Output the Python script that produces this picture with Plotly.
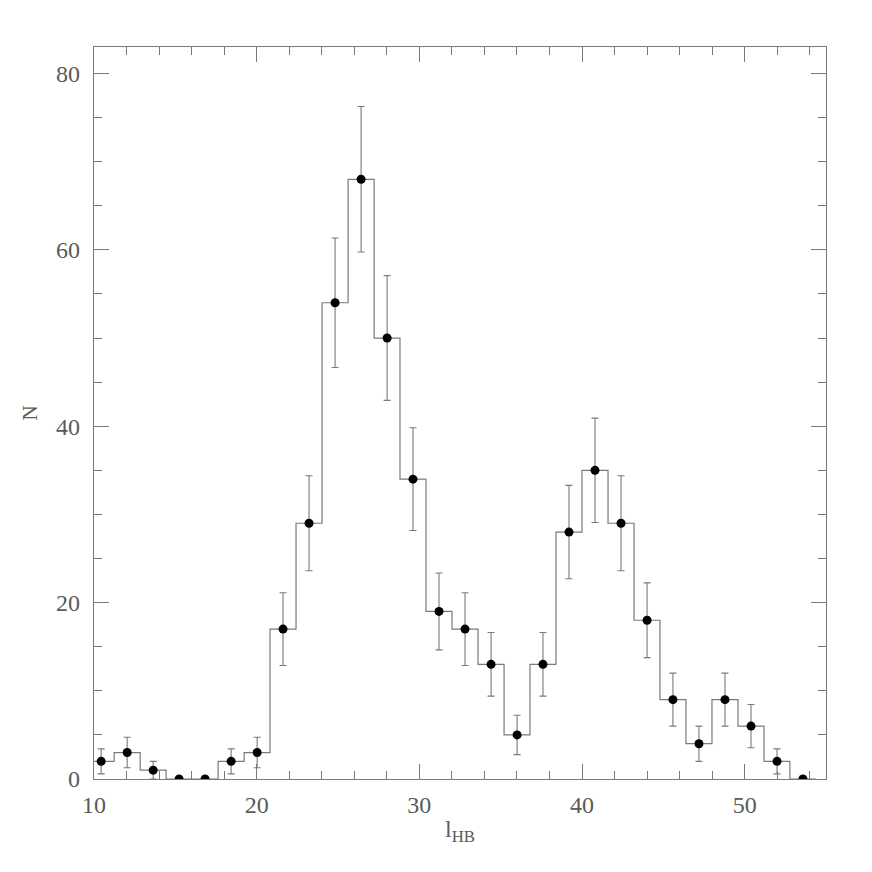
import numpy as np
import plotly.graph_objects as go

l_hb = [10.44, 12.04, 13.64, 15.23, 16.83, 18.43, 20.03, 21.62, 23.22, 24.82,
        26.42, 28.02, 29.61, 31.21, 32.81, 34.41, 36.01, 37.60, 39.20, 40.80,
        42.40, 44.00, 45.59, 47.19, 48.79, 50.39, 51.99, 53.58]
counts = [2, 3, 1, 0, 0, 2, 3, 17, 29, 54, 68, 50, 34, 19, 17, 13, 5, 13,
          28, 35, 29, 18, 9, 4, 9, 6, 2, 0]
bin_width = 1.6

x_ticks = [10, 20, 30, 40, 50]
y_ticks = [0, 20, 40, 60, 80]

GRAY = "#7a7a7a"
TXT = "#5a5a5a"
FONT = "Liberation Serif"

centers = np.array(l_hb)
n = np.array(counts, dtype=float)
err = np.sqrt(n)

# histogram outline: left edges plus the last right edge
edges = list(centers - bin_width / 2) + [centers[-1] + bin_width / 2]
steps = list(n) + [n[-1]]

fig = go.Figure()

fig.add_trace(go.Scatter(
    x=edges, y=steps, mode="lines", line_shape="hv",
    line=dict(color=GRAY, width=1.2), hoverinfo="skip", showlegend=False))

# error bars (zero-count bins have none)
has_err = n > 0
fig.add_trace(go.Scatter(
    x=centers[has_err], y=n[has_err], mode="markers",
    marker=dict(size=0.1, color="rgba(0,0,0,0)"),
    error_y=dict(type="data", array=err[has_err], color=GRAY,
                 thickness=1.1, width=3.5),
    hoverinfo="skip", showlegend=False))

fig.add_trace(go.Scatter(
    x=centers, y=n, mode="markers",
    marker=dict(size=9, color="black"),
    showlegend=False))

axis_common = dict(
    showgrid=False, zeroline=False, showline=True, linecolor=GRAY, linewidth=1.2,
    mirror="ticks", ticks="inside", tickcolor=GRAY, tickwidth=1.2, ticklen=15,
    tickfont=dict(family=FONT, size=24, color=TXT),
)

fig.update_xaxes(
    range=[10, 55], tickvals=x_ticks, ticklabelstandoff=4,
    minor=dict(dtick=2, tick0=0, ticks="inside", ticklen=8, tickcolor=GRAY, tickwidth=1.1),
    title=dict(text="l<sub>HB</sub>", font=dict(family=FONT, size=24, color=TXT), standoff=3),
    **axis_common)
fig.update_yaxes(
    range=[0, 83], tickvals=y_ticks, ticklabelstandoff=8,
    minor=dict(dtick=5, tick0=0, ticks="inside", ticklen=8, tickcolor=GRAY, tickwidth=1.1),
    title=dict(text="N", font=dict(family=FONT, size=21, color=TXT), standoff=12),
    **axis_common)

fig.update_layout(
    width=872, height=872,
    margin=dict(l=86, r=54, t=39, b=101),
    plot_bgcolor="white", paper_bgcolor="white",
)

fig.write_html("out.html")
